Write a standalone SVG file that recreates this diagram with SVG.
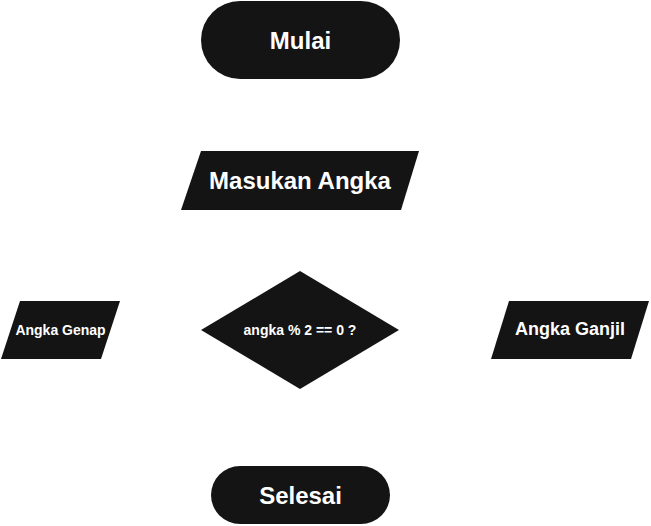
<svg xmlns="http://www.w3.org/2000/svg" width="651" height="526" viewBox="0 0 651 526">
<style>
.s{fill:#141414;}
.t{fill:#ffffff;font-family:"Liberation Sans",Arial,sans-serif;font-weight:bold;text-anchor:middle;dominant-baseline:central;}
</style>
<rect width="651" height="526" fill="#ffffff"/>
<g id="connectors"></g>
<g id="mulai">
<rect class="s" x="201" y="1" width="199" height="78" rx="39"/>
<text class="t" x="300.5" y="40" font-size="24">Mulai</text>
</g>
<g id="masukan">
<polygon class="s" points="201,151 419,151 401,210 181,210"/>
<text class="t" x="300" y="180.5" font-size="24">Masukan Angka</text>
</g>
<g id="cek">
<polygon class="s" points="300,271 399,330 300,389 201,330"/>
<text class="t" x="300" y="330" font-size="14">angka % 2 == 0 ?</text>
</g>
<g id="genap">
<polygon class="s" points="20,301 120,301 101,359 1,359"/>
<text class="t" x="60.5" y="330" font-size="14">Angka Genap</text>
</g>
<g id="ganjil">
<polygon class="s" points="509,301 649,301 631,359 491,359"/>
<text class="t" x="570" y="329" font-size="18">Angka Ganjil</text>
</g>
<g id="selesai">
<rect class="s" x="211" y="466" width="179" height="58" rx="29"/>
<text class="t" x="300.5" y="495" font-size="24">Selesai</text>
</g>
</svg>
